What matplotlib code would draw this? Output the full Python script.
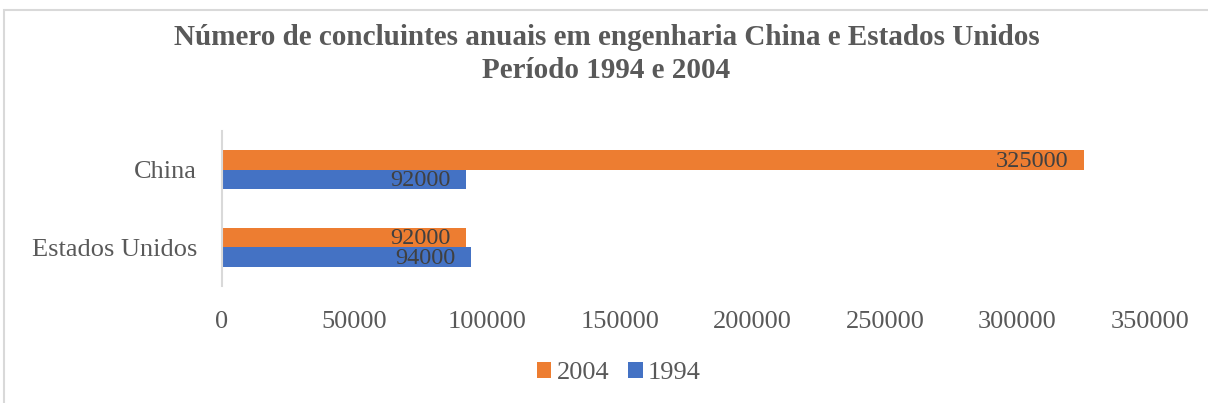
import matplotlib.pyplot as plt
from matplotlib.patches import Rectangle

# dados
paises = ["Estados Unidos", "China"]
v1994 = [94000, 92000]
v2004 = [92000, 325000]

cor_2004 = "#ED7D31"
cor_1994 = "#4472C4"
cinza = "#595959"

plt.rcParams["font.family"] = ["Liberation Serif", "DejaVu Serif"]

fig = plt.figure(figsize=(12.08, 4.03), dpi=100)
ax = fig.add_axes([0.1838, 0.2903, 0.952 - 0.1838, 0.675 - 0.2903])

y = list(range(len(paises)))
h = 0.25
b1 = ax.barh([i - h / 2 for i in y], v1994, height=h, color=cor_1994, label="1994")
b2 = ax.barh([i + h / 2 for i in y], v2004, height=h, color=cor_2004, label="2004")

# rotulos dentro da ponta da barra
for i in y:
    ax.annotate(str(v1994[i]), (v1994[i], i - h / 2), xytext=(-11, -1), textcoords="offset points",
                ha="right", va="center", fontsize=17.5, color="#404040")
    ax.annotate(str(v2004[i]), (v2004[i], i + h / 2), xytext=(-11, -1), textcoords="offset points",
                ha="right", va="center", fontsize=17.5, color="#404040")

ax.set_xlim(0, 350000)
ax.set_ylim(-0.5, 1.5)
ax.set_xticks(range(0, 350001, 50000))
ax.set_yticks(y)
ax.set_yticklabels(paises)
ax.tick_params(axis="x", length=0, pad=18, labelsize=19, labelcolor=cinza)
ax.tick_params(axis="y", length=0, pad=18, labelsize=19, labelcolor=cinza)

for s in ["top", "right", "bottom"]:
    ax.spines[s].set_visible(False)
ax.spines["left"].set_color("#D9D9D9")
ax.spines["left"].set_linewidth(1.5)

fig.text(0.502, 1 - 54 / 403, "Número de concluintes anuais em engenharia China e Estados Unidos\nPeríodo 1994 e 2004",
         ha="center", va="center", fontsize=21, fontweight="bold", color=cinza, linespacing=1.28)

fig.legend(handles=[b2, b1], labels=["2004", "1994"], loc="center", bbox_to_anchor=(619 / 1208, 1 - 373 / 403),
           ncol=2, frameon=False, fontsize=19, labelcolor=cinza, handlelength=0.55, handleheight=0.55,
           handletextpad=0.2, columnspacing=0.72)

# moldura do grafico
fig.patches.append(Rectangle((4 / 1208, -0.1), 1.2, 1 - 10 / 403 + 0.1, transform=fig.transFigure,
                             fill=False, edgecolor="#D9D9D9", linewidth=1.5))

plt.savefig("out.png", dpi=100)
